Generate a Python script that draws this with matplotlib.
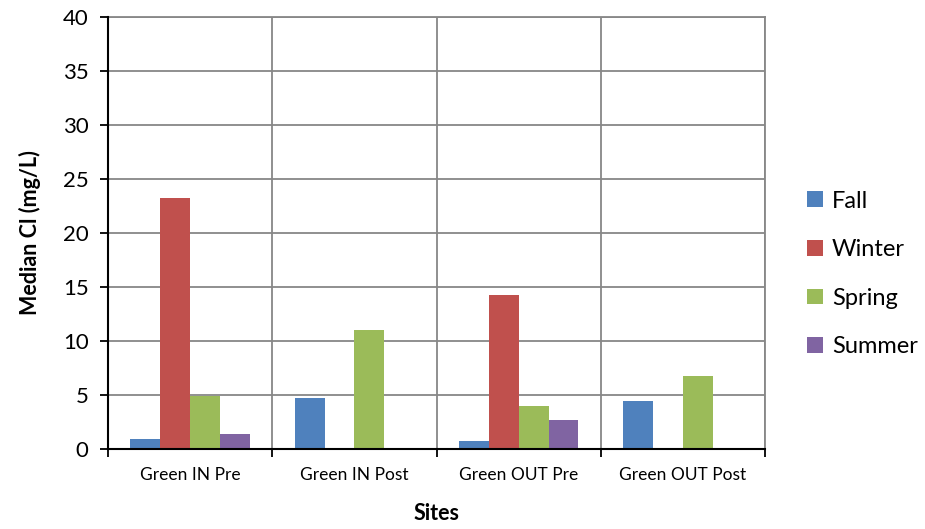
import numpy as np
import matplotlib.pyplot as plt

plt.rcParams['font.family'] = ['Lato', 'DejaVu Sans']

sites = ['Green IN Pre', 'Green IN Post', 'Green OUT Pre', 'Green OUT Post']
seasons = ['Fall', 'Winter', 'Spring', 'Summer']
colors = ['#4F81BD', '#C0504D', '#9BBB59', '#8064A2']

fall = [0.9, 4.7, 0.7, 4.45]
winter = [23.2, 0.0, 14.3, 0.0]
spring = [4.9, 11.0, 4.0, 6.8]
summer = [1.4, 0.0, 2.7, 0.0]
values = [fall, winter, spring, summer]

fig = plt.figure(figsize=(9.25, 5.29), dpi=100)
ax = fig.add_axes([0.1168, 0.1512, 0.7103, 0.8167])

x = np.arange(len(sites))
bw = 1 / 5.5
for i, (name, vals) in enumerate(zip(seasons, values)):
    ax.bar(x + (i - 1.5) * bw, vals, bw, color=colors[i], label=name, zorder=3)

ax.set_xlim(-0.5, 3.5)
ax.set_ylim(0, 40)
ax.set_yticks(range(0, 41, 5))
ax.tick_params(axis='y', labelsize=16, direction='out', length=6, width=1.3, pad=8)

# category ticks sit on the group boundaries, labels in the middle
ax.set_xticks(np.arange(-0.5, 4, 1))
ax.set_xticklabels([])
ax.set_xticks(x, minor=True)
ax.set_xticklabels(sites, minor=True, fontsize=12.5)
ax.tick_params(axis='x', which='major', direction='out', length=6, width=1.3)
ax.tick_params(axis='x', which='minor', length=0, pad=13)

ax.grid(True, which='major', color='#878787', linewidth=1.3, zorder=0)

for side in ['top', 'right']:
    ax.spines[side].set_color('#878787')
    ax.spines[side].set_linewidth(1.3)
for side in ['left', 'bottom']:
    ax.spines[side].set_linewidth(1.5)
    ax.spines[side].set_zorder(4)

ax.set_ylabel('Median Cl (mg/L)', fontsize=15.5, fontweight='bold', labelpad=16)
ax.set_xlabel('Sites', fontsize=15.5, fontweight='bold', labelpad=14)

ax.legend(loc='center left', bbox_to_anchor=(1.032, 0.405), frameon=False,
          fontsize=17, handlelength=0.65, handleheight=0.65, handletextpad=0.4,
          labelspacing=1.17)

fig.savefig('out.png', dpi=100)
